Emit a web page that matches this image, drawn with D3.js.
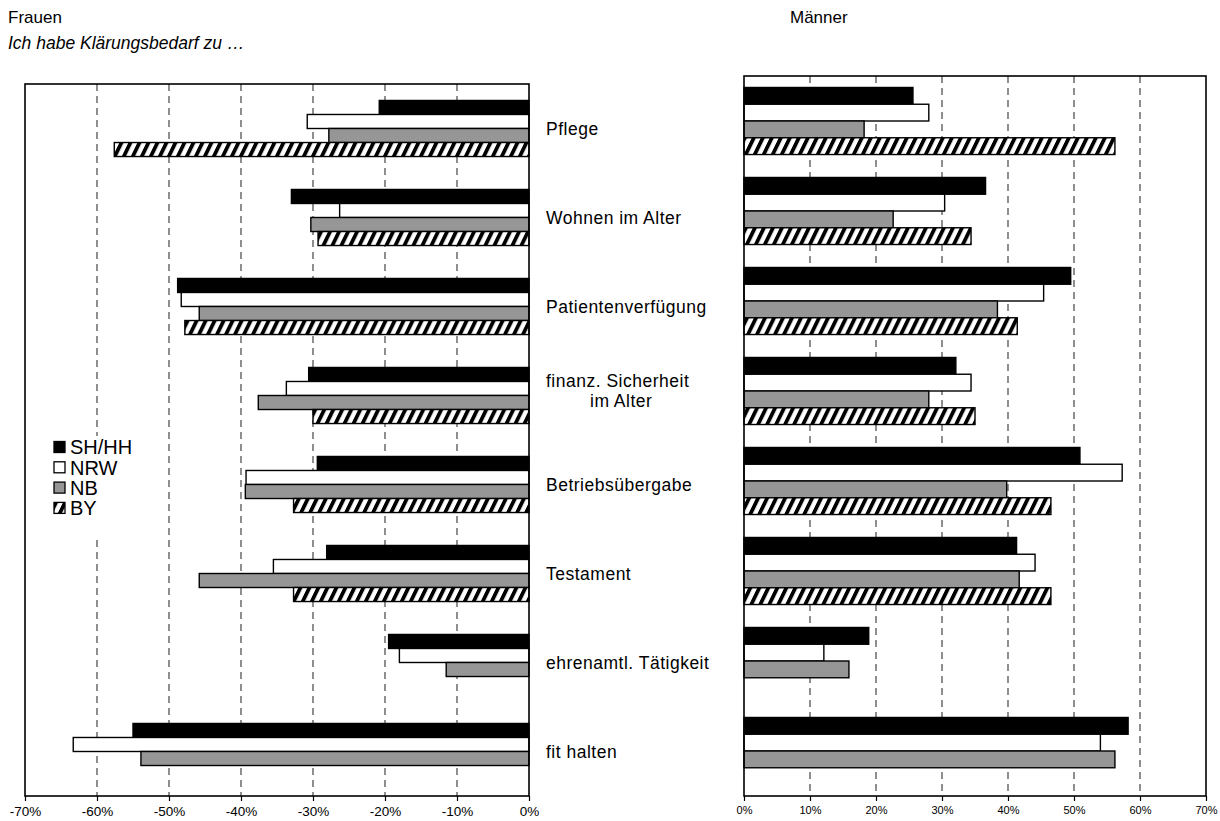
<!DOCTYPE html>
<html>
<head>
<meta charset="utf-8">
<script src="https://cdn.jsdelivr.net/npm/d3@7"></script>
<style>
  body { margin: 0; background: #fff; }
  svg { display: block; font-family: "Liberation Sans", Arial, sans-serif; }
</style>
</head>
<body>
<svg id="chart" width="1220" height="821"></svg>
<script>
// Categories (top to bottom); "|" marks a line break
const categories = [
  "Pflege",
  "Wohnen im Alter",
  "Patientenverfügung",
  "finanz. Sicherheit|im Alter",
  "Betriebsübergabe",
  "Testament",
  "ehrenamtl. Tätigkeit",
  "fit halten"
];
const seriesNames = ["SH/HH", "NRW", "NB", "BY"];

// Frauen (shares in %, drawn to the left)
const womenSH = [20.8, 33.0, 48.8, 30.6, 29.4, 28.1, 19.5, 55.0];
const womenNRW = [30.8, 26.3, 48.3, 33.7, 39.3, 35.5, 18.0, 63.3];
const womenNB = [27.8, 30.3, 45.8, 37.6, 39.4, 45.8, 11.5, 53.9];
const womenBY = [57.6, 29.3, 47.8, 30.0, 32.7, 32.7, null, null];

// Männer (shares in %)
const menSH = [25.6, 36.6, 49.5, 32.1, 50.9, 41.3, 18.9, 58.2];
const menNRW = [28.0, 30.4, 45.4, 34.4, 57.3, 44.1, 12.1, 54.0];
const menNB = [18.2, 22.6, 38.4, 28.0, 39.8, 41.7, 15.9, 56.2];
const menBY = [56.2, 34.4, 41.4, 35.0, 46.5, 46.5, null, null];

const leftTicks = [-70, -60, -50, -40, -30, -20, -10, 0];
const rightTicks = [0, 10, 20, 30, 40, 50, 60, 70];

const svg = d3.select("#chart");
const defs = svg.append("defs");

// Diagonal hatch used for BY
defs.append("pattern")
  .attr("id", "hatch")
  .attr("patternUnits", "userSpaceOnUse")
  .attr("width", 9).attr("height", 40)
  .attr("patternTransform", "skewX(-26)")
  .call(p => {
    p.append("rect").attr("width", 9).attr("height", 40).attr("fill", "#fff");
    p.append("rect").attr("x", 0).attr("width", 4.2).attr("height", 40).attr("fill", "#000");
  });

const fills = ["#000", "#fff", "#969696", "url(#hatch)"];

function panel(opts) {
  const { x0, x1, y0, y1, domain, ticks, sets, groupFrac, tickFont, gridTicks, mirror } = opts;
  const g = svg.append("g");
  const x = d3.scaleLinear().domain(domain).range([x0, x1]);
  const n = categories.length;
  const pin = 1 - groupFrac;
  const y = d3.scaleBand().domain(d3.range(n)).range([y0, y1])
    .paddingInner(pin).paddingOuter(pin / 2);
  const ys = d3.scaleBand().domain(d3.range(seriesNames.length)).range([0, y.bandwidth()]);

  g.append("rect").attr("x", x0).attr("y", y0).attr("width", x1 - x0).attr("height", y1 - y0)
    .attr("fill", "#fff");

  // dashed gridlines
  g.selectAll("line.grid").data(gridTicks).join("line")
    .attr("x1", d => x(d)).attr("x2", d => x(d))
    .attr("y1", y0).attr("y2", y1)
    .attr("stroke", "#333").attr("stroke-width", 1.1)
    .attr("stroke-dasharray", "7,5");

  // bars
  sets.forEach((vals, si) => {
    const zero = x(0);
    g.selectAll(null).data(vals.map((v, i) => ({ v, i })).filter(d => d.v != null)).join("rect")
      .attr("x", d => Math.min(zero, x(mirror ? -d.v : d.v)))
      .attr("width", d => Math.abs(x(mirror ? -d.v : d.v) - zero))
      .attr("y", d => y(d.i) + ys(si))
      .attr("height", ys.bandwidth())
      .attr("fill", fills[si])
      .attr("stroke", "#000").attr("stroke-width", 1.4);
  });

  // frame
  g.append("rect").attr("x", x0).attr("y", y0).attr("width", x1 - x0).attr("height", y1 - y0)
    .attr("fill", "none").attr("stroke", "#000").attr("stroke-width", 1.6);

  // bottom axis
  const axis = d3.axisBottom(x).tickValues(ticks).tickSize(5)
    .tickFormat(d => d + "%");
  const ag = g.append("g").attr("transform", `translate(0,${y1})`).call(axis);
  ag.select(".domain").remove();
  ag.selectAll(".tick line").attr("stroke", "#000").attr("stroke-width", 1.2);
  ag.selectAll(".tick text").attr("font-size", tickFont)
    .attr("font-family", "Liberation Sans, Arial, sans-serif")
    .attr("fill", "#000").attr("dy", "0.9em");
  return { x, y };
}

const L = panel({
  x0: 25, x1: 529, y0: 84, y1: 796,
  domain: [-70, 0], ticks: leftTicks, gridTicks: [-60, -50, -40, -30, -20, -10],
  sets: [womenSH, womenNRW, womenNB, womenBY], groupFrac: 0.63, tickFont: 13.5, mirror: true
});
const R = panel({
  x0: 744, x1: 1206, y0: 76, y1: 796,
  domain: [0, 70], ticks: rightTicks, gridTicks: [10, 20, 30, 40, 50, 60],
  sets: [menSH, menNRW, menNB, menBY], groupFrac: 0.745, tickFont: 11, mirror: false
});

// category labels between the panels
const lab = svg.append("g").attr("font-size", 17.5).attr("letter-spacing", 0.5).attr("fill", "#000");
categories.forEach((c, i) => {
  const cy = L.y(i) + L.y.bandwidth() / 2;
  const parts = c.split("|");
  if (parts.length === 1) {
    lab.append("text").attr("x", 546).attr("y", cy).attr("dy", "0.35em").text(c);
  } else {
    lab.append("text").attr("x", 546).attr("y", cy - 15).attr("dy", "0.35em").text(parts[0]);
    lab.append("text").attr("x", 590).attr("y", cy + 5).attr("dy", "0.35em").text(parts[1]);
  }
});

// titles
svg.append("text").attr("x", 8).attr("y", 23).attr("font-size", 17).text("Frauen");
svg.append("text").attr("x", 790).attr("y", 23).attr("font-size", 17).text("Männer");
svg.append("text").attr("x", 8).attr("y", 49).attr("font-size", 17.5)
  .attr("font-style", "italic").text("Ich habe Klärungsbedarf zu …");

// legend
const lg = svg.append("g").attr("transform", "translate(45,436)");
lg.append("rect").attr("width", 100).attr("height", 100).attr("fill", "#fff");
seriesNames.forEach((s, i) => {
  const row = lg.append("g").attr("transform", `translate(9,${5.5 + i * 20.3})`);
  row.append("rect").attr("width", 11).attr("height", 11)
    .attr("fill", fills[i]).attr("stroke", "#000").attr("stroke-width", 1.3);
  row.append("text").attr("x", 16).attr("y", 5.5).attr("dy", "0.36em")
    .attr("font-size", 20).text(s);
});
</script>
</body>
</html>
